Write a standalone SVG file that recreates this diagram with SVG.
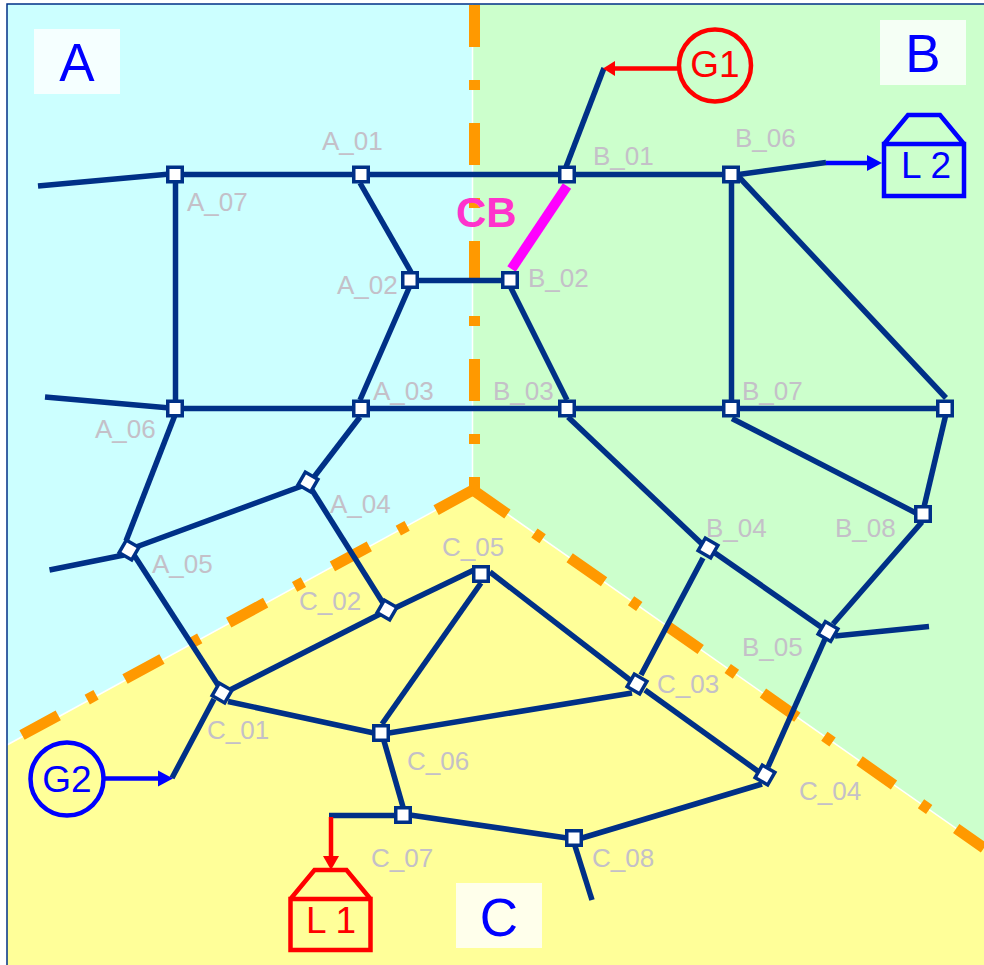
<svg xmlns="http://www.w3.org/2000/svg" width="984" height="965" viewBox="0 0 984 965">
<style>
.lbl{font:26px "Liberation Sans",Arial,sans-serif;fill:#c4c0c8}
.zone{font:53px "Liberation Sans",Arial,sans-serif;fill:#0000ff;text-anchor:middle}
.sym{font:37px "Liberation Sans",Arial,sans-serif;text-anchor:middle}
.zb{fill:#fff;fill-opacity:.8}
.div{fill:none;stroke:#ff9900;stroke-width:11;stroke-dasharray:42 33 10 33}
.edge{fill:none;stroke:#fff;stroke-width:1.5}
#connectors line,#connectors polyline{fill:none;stroke:#003087;stroke-width:5.500}
.n{fill:#fff;stroke:#003087;stroke-width:3.500}
.red{fill:none;stroke:#ff0000;stroke-width:4.500}
.blue{fill:none;stroke:#0000ff;stroke-width:4.500}
</style>
<defs>
<rect id="sq" class="n" x="-7.250" y="-7.250" width="14.500" height="14.500"/>
</defs>
<rect width="984" height="965" fill="#fff"/>
<g id="regions">
<rect x="7" y="4" width="977" height="961" fill="#ccffcc"/>
<polygon points="7,4 473,4 473,490 7,745" fill="#ccffff"/>
<polygon points="473,490 984,848 984,965 7,965 7,745" fill="#ffff99"/>
<path class="edge" d="M472.500 4V490L7 745M473 490L984 848"/>
<path d="M7 965V4H984" fill="none" stroke="#003087" stroke-width="1.5"/>
</g>
<g id="dividers">
<path class="div" d="M474.500 5V490"/>
<path class="div" d="M473 490L22 735"/>
<path class="div" d="M473 490L984 848"/>
</g>
<g id="zone-labels">
<g id="zone-A"><rect class="zb" x="34" y="29" width="86" height="65"/><text class="zone" x="77" y="81">A</text></g>
<g id="zone-B"><rect class="zb" x="880" y="20" width="86" height="65"/><text class="zone" x="923" y="72">B</text></g>
<g id="zone-C"><rect class="zb" x="456" y="883" width="86" height="65"/><text class="zone" x="499" y="936">C</text></g>
</g>
<g id="connectors">
<line x1="175" y1="174.500" x2="731" y2="174.500"/>
<line x1="38" y1="186" x2="170" y2="174"/>
<line x1="45" y1="397" x2="170" y2="408"/>
<line x1="175.500" y1="174" x2="175.500" y2="408"/>
<line x1="360" y1="183" x2="411" y2="272"/>
<line x1="410" y1="280.500" x2="510" y2="280.500"/>
<line x1="409" y1="288" x2="360" y2="400"/>
<line x1="511" y1="288" x2="567" y2="400"/>
<line x1="566" y1="167" x2="604" y2="68"/>
<line x1="731.500" y1="175" x2="731.500" y2="408"/>
<line x1="735" y1="175" x2="826" y2="162.500"/>
<line x1="738" y1="176" x2="946" y2="398"/>
<line x1="175" y1="408.500" x2="945" y2="408.500"/>
<line x1="175" y1="415" x2="126" y2="541"/>
<line x1="360" y1="417" x2="314" y2="477"/>
<line x1="302" y1="486" x2="136" y2="547"/>
<line x1="312" y1="490" x2="383" y2="603"/>
<line x1="49.500" y1="570" x2="124" y2="555"/>
<line x1="134" y1="555" x2="218" y2="685"/>
<line x1="568" y1="417" x2="702" y2="544"/>
<line x1="732" y1="418.500" x2="916" y2="513"/>
<line x1="945.500" y1="416" x2="924" y2="507"/>
<line x1="922" y1="522" x2="833" y2="624"/>
<line x1="715" y1="553" x2="821" y2="627"/>
<line x1="703" y1="558" x2="641" y2="675"/>
<line x1="835" y1="636" x2="929" y2="626.500"/>
<line x1="825" y1="639" x2="768" y2="767"/>
<line x1="230" y1="690" x2="382" y2="613"/>
<line x1="395" y1="608" x2="474" y2="570"/>
<line x1="481" y1="583" x2="382" y2="724"/>
<line x1="490" y1="572" x2="630" y2="680"/>
<line x1="228" y1="701.500" x2="374" y2="733"/>
<line x1="389" y1="733" x2="632" y2="693"/>
<line x1="645" y1="690" x2="759" y2="772"/>
<line x1="214" y1="699" x2="172" y2="778"/>
<line x1="384" y1="741" x2="403" y2="807"/>
<line x1="410" y1="815" x2="567" y2="838"/>
<line x1="582" y1="838" x2="762" y2="784"/>
<line x1="575" y1="846" x2="592" y2="900"/>
<polyline points="396,815.500 329,815.500"/>
<line x1="567" y1="186" x2="511.500" y2="269" style="stroke:#ff00ff;stroke-width:10"/>
</g>
<g id="sym-arrows">
<path class="red" d="M680 68.500H614"/><polygon points="603,68.500 615,61 615,76" fill="#ff0000"/>
<path class="red" d="M331 817V857"/><polygon points="331,870 323,856 339,856" fill="#ff0000"/>
<path class="blue" d="M826 163H868"/><polygon points="882,163 867,155 867,171" fill="#0000ff"/>
<path class="blue" d="M104 778.500H160"/><polygon points="173,778.500 158,770.500 158,786.500" fill="#0000ff"/>
</g>
<g id="G1"><circle class="red" cx="715" cy="65.500" r="36"/><text class="sym" x="715" y="77" fill="#ff0000">G1</text></g>
<g id="G2"><circle class="blue" cx="67" cy="779" r="36.500"/><text class="sym" x="67" y="792" fill="#0000ff">G2</text></g>
<g id="L1"><path class="red" d="M290.500 899H370.500V950H290.500ZM290.500 899L314.500 870H346.500L370.500 899"/><text class="sym" x="331" y="933" fill="#ff0000">L 1</text></g>
<g id="L2"><path class="blue" d="M884 144H964V196H884ZM884 144L908 115H940L964 144"/><text class="sym" x="926" y="178" fill="#0000ff">L 2</text></g>
<g id="A_01"><use href="#sq" x="361" y="174.500"/><text class="lbl" x="322" y="150">A_01</text></g>
<g id="A_02"><use href="#sq" x="410" y="280"/><text class="lbl" x="337" y="294">A_02</text></g>
<g id="A_03"><use href="#sq" x="361" y="408.500"/><text class="lbl" x="373" y="400">A_03</text></g>
<g id="A_04"><use href="#sq" transform="translate(308 482) rotate(30)"/><text class="lbl" x="330" y="513">A_04</text></g>
<g id="A_05"><use href="#sq" transform="translate(129 550) rotate(30)"/><text class="lbl" x="152" y="573">A_05</text></g>
<g id="A_06"><use href="#sq" x="175" y="408.500"/><text class="lbl" x="95" y="438">A_06</text></g>
<g id="A_07"><use href="#sq" x="175" y="174.500"/><text class="lbl" x="187" y="211">A_07</text></g>
<g id="B_01"><use href="#sq" x="567" y="174.500"/><text class="lbl" x="593" y="165">B_01</text></g>
<g id="B_02"><use href="#sq" x="510" y="280"/><text class="lbl" x="528" y="287">B_02</text></g>
<g id="B_03"><use href="#sq" x="567" y="408.500"/><text class="lbl" x="493" y="400">B_03</text></g>
<g id="B_04"><use href="#sq" transform="translate(708 548) rotate(30)"/><text class="lbl" x="706" y="537">B_04</text></g>
<g id="B_05"><use href="#sq" transform="translate(828 631.500) rotate(30)"/><text class="lbl" x="742" y="656">B_05</text></g>
<g id="B_06"><use href="#sq" x="731" y="174.500"/><text class="lbl" x="735" y="147">B_06</text></g>
<g id="B_07"><use href="#sq" x="731" y="408.500"/><text class="lbl" x="742" y="400">B_07</text></g>
<g id="B_08"><use href="#sq" x="923" y="514"/><text class="lbl" x="835" y="537">B_08</text></g>
<g id="B_09"><use href="#sq" x="945" y="408.500"/></g>
<g id="C_01"><use href="#sq" transform="translate(222 693) rotate(30)"/><text class="lbl" x="207" y="739">C_01</text></g>
<g id="C_02"><use href="#sq" transform="translate(387 610) rotate(30)"/><text class="lbl" x="299" y="610">C_02</text></g>
<g id="C_03"><use href="#sq" transform="translate(637 684) rotate(30)"/><text class="lbl" x="657" y="693">C_03</text></g>
<g id="C_04"><use href="#sq" transform="translate(765 775) rotate(30)"/><text class="lbl" x="799" y="800">C_04</text></g>
<g id="C_05"><use href="#sq" x="481" y="574"/><text class="lbl" x="442" y="556">C_05</text></g>
<g id="C_06"><use href="#sq" x="381" y="733"/><text class="lbl" x="407" y="770">C_06</text></g>
<g id="C_07"><use href="#sq" x="403" y="815"/><text class="lbl" x="371" y="867">C_07</text></g>
<g id="C_08"><use href="#sq" x="574" y="838"/><text class="lbl" x="592" y="867">C_08</text></g>
<text x="456" y="227" font-family="Liberation Sans,Arial,sans-serif" font-weight="bold" font-size="42" fill="#ff33cc">CB</text>
</svg>
